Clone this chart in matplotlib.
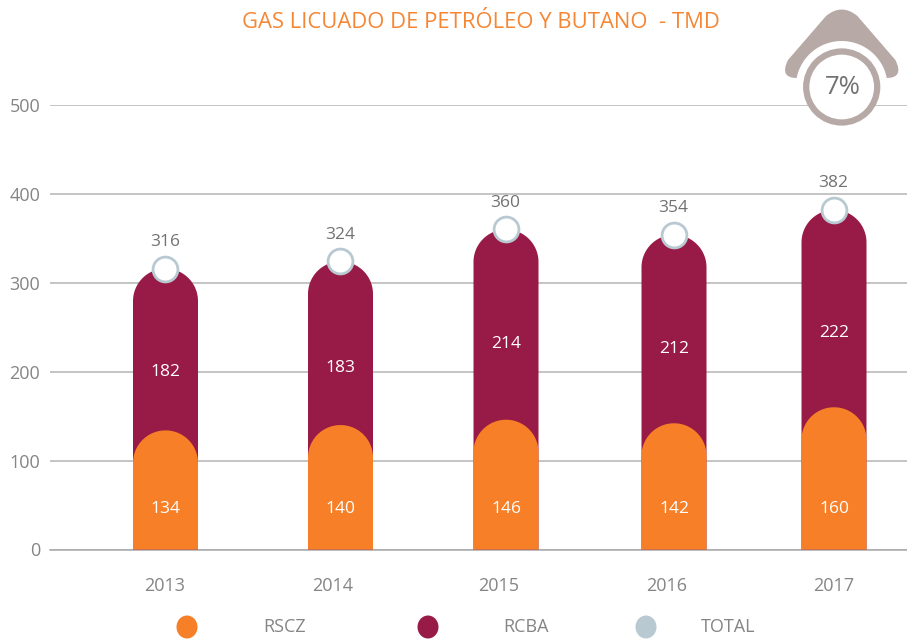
import numpy as np
import matplotlib
matplotlib.use('Agg')
import matplotlib.pyplot as plt
from matplotlib.path import Path
from matplotlib.patches import PathPatch, Circle, Ellipse
from matplotlib.transforms import Affine2D

plt.rcParams['font.family'] = ['Open Sans', 'DejaVu Sans']

years = ['2013', '2014', '2015', '2016', '2017']
rscz = [134, 140, 146, 142, 160]
rcba = [182, 183, 214, 212, 222]
total = [316, 324, 360, 354, 382]
legend_names = ['RSCZ', 'RCBA', 'TOTAL']
share = '7%'

ORANGE = '#f67f27'
MAROON = '#981b47'
BLUE = '#b9c9d2'
TAUPE = '#b6a9a6'
GRAY = '#858585'
DARK = '#727272'

# layout, in picture pixels
W, H = 907, 639
bar_x = [165.5, 340.5, 506, 674, 834]
tick_x = [165, 333, 499, 667, 834]
rcba_label_y = [200, 204, 231, 226, 243]
BAR_W = 65
LEFT, RIGHT, TOP, BOTTOM = 50, 907, 105, 549.5

fig = plt.figure(figsize=(W / 100, H / 100), dpi=100)
ax = fig.add_axes([LEFT / W, 1 - BOTTOM / H, (RIGHT - LEFT) / W, (BOTTOM - TOP) / H])
ax.set_xlim(LEFT, RIGHT)
ax.set_ylim(0, 500)
for s in ['top', 'left', 'right']:
    ax.spines[s].set_visible(False)
ax.spines['bottom'].set_color('#a8a8a8')
ax.spines['bottom'].set_linewidth(1.1)
ax.set_yticks([0, 100, 200, 300, 400, 500])
ax.set_xticks(tick_x)
ax.set_xticklabels(years)
ax.tick_params(axis='y', length=0, pad=7, labelsize=13, labelcolor=GRAY)
ax.tick_params(axis='x', length=0, pad=20, labelsize=13, labelcolor=GRAY)
ax.grid(axis='y', color='#b4b4b4', linewidth=1.1)
ax.set_axisbelow(True)

yscale = (BOTTOM - TOP) / 500


def round_bar(x, height, color, z):
    # bar with a half round top, radius is half the bar width
    r = BAR_W / 2
    ry = r / yscale
    t = np.linspace(np.pi, 0, 60)
    xs = np.concatenate([[x - r], x + r * np.cos(t), [x + r]])
    ys = np.concatenate([[0], height - ry + ry * np.sin(t), [0]])
    ax.fill(xs, ys, color=color, linewidth=0, zorder=z)


for i in range(len(years)):
    round_bar(bar_x[i], total[i], MAROON, 3)
    round_bar(bar_x[i], rscz[i], ORANGE, 4)
    ax.text(bar_x[i], 46, str(rscz[i]), color='white', fontsize=12.5, ha='center', va='center', zorder=6)
    ax.text(bar_x[i], rcba_label_y[i], str(rcba[i]), color='white', fontsize=12.5, ha='center', va='center', zorder=6)
    ax.text(bar_x[i] - 0.5, total[i] + 30, str(total[i]), color=DARK, fontsize=12.5, ha='center', va='center', zorder=6)

ax.scatter(bar_x, total, s=320, facecolor='white', edgecolor=BLUE, linewidth=2, zorder=5, clip_on=False)

# everything outside the plot is placed in picture pixels
px = Affine2D().scale(1, -1).translate(0, H)

fig.text(481, 23, 'GAS LICUADO DE PETRÓLEO Y BUTANO  - TMD', transform=px, color='#f58634',
         fontsize=15.8, ha='center', va='center')

# legend
legend_x = [187, 428, 646]
legend_text_x = [285, 526, 728]
legend_colors = [ORANGE, MAROON, BLUE]
for i in range(3):
    fig.add_artist(Ellipse((legend_x[i], 627), 21, 23, transform=px, color=legend_colors[i], linewidth=0))
    fig.text(legend_text_x[i], 627, legend_names[i], transform=px, color=GRAY, fontsize=13, ha='center', va='center')

# roof icon with the circle under it
cx, cy = 841.7, 87
a = np.linspace(np.radians(-11.5), np.radians(-168.5), 40)
arc = [(cx + 46 * np.cos(v), cy + 46 * np.sin(v)) for v in a]
verts = [(797, 78), (779, 78), (788, 60), (826, 16), (cx, 3), (857.4, 16), (895.4, 60), (904.4, 78), (886.4, 78)]
codes = [Path.MOVETO, Path.CURVE3, Path.CURVE3, Path.LINETO, Path.CURVE3, Path.CURVE3, Path.LINETO, Path.CURVE3, Path.CURVE3]
verts += arc
codes += [Path.LINETO] * len(arc)
fig.add_artist(PathPatch(Path(verts, codes), transform=px, facecolor=TAUPE, linewidth=0, zorder=7))
fig.add_artist(Circle((cx, cy), 35.5, transform=px, facecolor='white', edgecolor=TAUPE, linewidth=4.5, zorder=7))
fig.text(cx + 1, cy, share, transform=px, color=DARK, fontsize=18.5, ha='center', va='center', zorder=8)

fig.savefig('out.png', dpi=100)
